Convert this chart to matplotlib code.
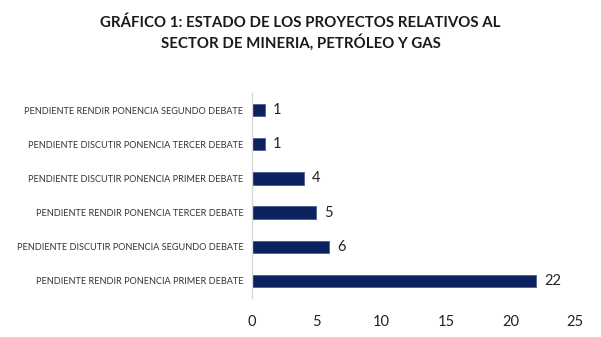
import matplotlib
matplotlib.use("Agg")
import matplotlib.pyplot as plt

categories = [
    "PENDIENTE RENDIR PONENCIA PRIMER DEBATE",
    "PENDIENTE DISCUTIR PONENCIA SEGUNDO DEBATE",
    "PENDIENTE RENDIR PONENCIA TERCER DEBATE",
    "PENDIENTE DISCUTIR PONENCIA PRIMER DEBATE",
    "PENDIENTE DISCUTIR PONENCIA TERCER DEBATE",
    "PENDIENTE RENDIR PONENCIA SEGUNDO DEBATE",
]
values = [22, 6, 5, 4, 1, 1]
xticks = [0, 5, 10, 15, 20, 25]
title = "GRÁFICO 1: ESTADO DE LOS PROYECTOS RELATIVOS AL\nSECTOR DE MINERIA, PETRÓLEO Y GAS"

plt.rcParams['font.family'] = ['Lato', 'DejaVu Sans']

fig = plt.figure(figsize=(6.01, 3.37), dpi=100)
ax = fig.add_axes([0.419, 0.116, 0.538, 0.608])

y = range(len(categories))
ax.barh(y, values, height=0.36, color="#0c2160", edgecolor="#4a5f8f", linewidth=0.6)
for yi, v in zip(y, values):
    ax.text(v + 0.6, yi, str(v), va="center", ha="left", fontsize=10.5, color="#222222")

ax.set_yticks(list(y))
ax.set_yticklabels(categories, fontsize=6.6, color="#333333")
ax.set_xticks(xticks)
ax.set_xticklabels([str(t) for t in xticks], fontsize=10.5, color="#222222")
ax.set_xlim(0, 25)
ax.set_ylim(-0.5, len(categories) - 0.5)
ax.tick_params(axis="both", length=0)
ax.tick_params(axis="x", pad=12)
ax.tick_params(axis="y", pad=6)
for s in ["top", "right", "bottom"]:
    ax.spines[s].set_visible(False)
ax.spines["left"].set_color("#d9d9d9")
ax.spines["left"].set_linewidth(1.0)

fig.text(0.5, 0.955, title, ha="center", va="top", fontsize=10.8, fontweight="bold",
         color="#1a1a1a", linespacing=1.3)

fig.savefig("out.png", dpi=100, facecolor="white")
